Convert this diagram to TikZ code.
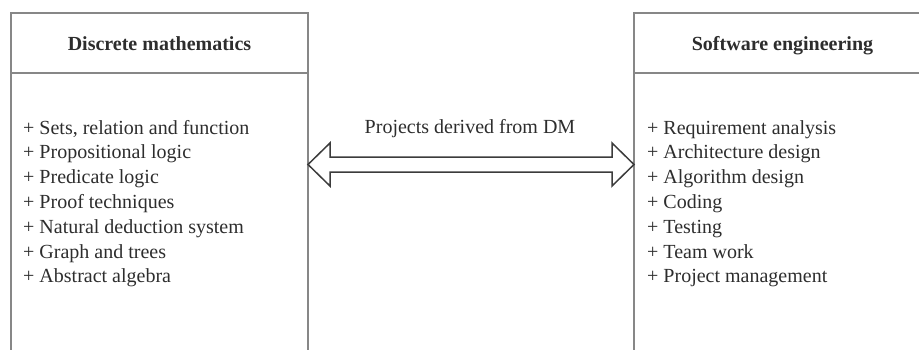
\documentclass[tikz,border=0pt]{standalone}
\usepackage{fontspec}
\setmainfont{Liberation Serif}
\usepackage{xcolor}
\usetikzlibrary{positioning}

\definecolor{boxgray}{RGB}{135,135,135}
\definecolor{arrowgray}{RGB}{60,60,60}
\definecolor{textgray}{RGB}{45,45,45}

\begin{document}
\begin{tikzpicture}[x=1pt, y=-1pt,
    font=\fontsize{20}{24.8}\selectfont, text=textgray,
    panel/.style={draw=boxgray, line width=1.5pt, inner sep=0pt, outer sep=0pt, minimum width=297pt},
    head/.style={panel, minimum height=60pt, text height=14pt, text depth=0pt, font=\fontsize{20}{24.8}\selectfont\bfseries},
    body/.style={panel, minimum height=320pt},
    item/.style={anchor=base west, inner sep=0pt},
    link/.style={draw=arrowgray, line width=1.5pt, line join=miter, fill=white}]
\clip (0,0) rectangle (919,349);

% discrete mathematics
\node[head, anchor=north west] (dmhead) at (11,13) {Discrete mathematics};
\node[body, below=0pt of dmhead] (dmbody) {};
\foreach \txt [count=\i] in {{Sets, relation and function}, Propositional logic, Predicate logic,
    Proof techniques, Natural deduction system, Graph and trees, Abstract algebra}
  \node[item] (dm\i) at (23,{134+(\i-1)*24.8}) {+ \txt};

% software engineering
\node[head, anchor=north west] (sehead) at (634,13) {Software engineering};
\node[body, below=0pt of sehead] (sebody) {};
\foreach \txt [count=\i] in {Requirement analysis, Architecture design, Algorithm design,
    Coding, Testing, Team work, Project management}
  \node[item] (se\i) at (647,{134+(\i-1)*24.8}) {+ \txt};

% double arrow between the two
\coordinate (mid) at (470,164.5);
\coordinate (a) at (dmhead.east |- mid);
\coordinate (b) at (sehead.west |- mid);
\draw[link] (a) -- ++(22,-21.5) -- ++(0,14) -- ([xshift=-22pt,yshift=7.5pt]b) -- ++(0,-14)
  -- (b) -- ++(-22,21.5) -- ++(0,-14) -- ([xshift=22pt,yshift=-7.5pt]a) -- ++(0,14) -- cycle;
\node[anchor=base, inner sep=0pt] (lbl) at (470,133) {Projects derived from DM};
\end{tikzpicture}
\end{document}
